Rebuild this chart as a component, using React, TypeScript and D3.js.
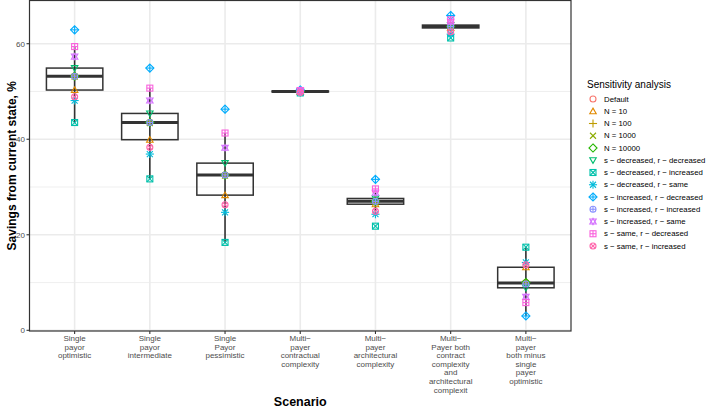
import React from "react";
import * as d3 from "d3";

const scenarios: string[][] = [
  ["Single", "payor", "optimistic"],
  ["Single", "payor", "intermediate"],
  ["Single", "Payor", "pessimistic"],
  ["Multi\u2212", "payer", "contractual", "complexity"],
  ["Multi\u2212", "payer", "architectural", "complexity"],
  ["Multi\u2212", "Payer both", "contract", "complexity", "and", "architectural", "complexit"],
  ["Multi\u2212", "payer", "both minus", "single", "payer", "optimistic"],
];

const seriesNames = [
  "Default",
  "N = 10",
  "N = 100",
  "N = 1000",
  "N = 10000",
  "s \u2212 decreased, r \u2212 decreased",
  "s \u2212 decreased, r \u2212 increased",
  "s \u2212 decreased, r \u2212 same",
  "s \u2212 increased, r \u2212 decreased",
  "s \u2212 increased, r \u2212 increased",
  "s \u2212 increased, r \u2212 same",
  "s \u2212 same, r \u2212 decreased",
  "s \u2212 same, r \u2212 increased",
];

const seriesColors = [
  "#F8766D", "#E18A00", "#BE9C00", "#8CAB00", "#24B700", "#00BE70", "#00C1AB",
  "#00BBDA", "#00ACFC", "#8B93FF", "#D575FE", "#F962DD", "#FF65AC",
];

// values per scenario (7 scenarios)
const defaultVals = [53.2, 43.5, 32.5, 50.0, 27.0, 63.6, 10.0];
const n10Vals = [50.3, 39.9, 28.3, 49.9, 26.4, 63.3, 13.2];
const n100Vals = [53.3, 43.6, 32.6, 50.0, 27.0, 63.6, 9.9];
const n1000Vals = [53.1, 43.4, 32.4, 50.0, 26.9, 63.5, 9.8];
const n10000Vals = [53.2, 43.5, 32.5, 50.0, 27.0, 63.6, 10.0];
const sDecRDec = [54.9, 45.4, 35.0, 50.1, 27.6, 63.9, 8.9];
const sDecRInc = [43.5, 31.7, 18.4, 49.7, 21.8, 61.2, 17.4];
const sDecRSame = [48.1, 36.9, 24.7, 49.8, 24.3, 62.0, 14.2];
const sIncRDec = [62.9, 54.9, 46.3, 50.3, 31.6, 65.9, 3.0];
const sIncRInc = [53.2, 43.5, 32.5, 50.0, 27.0, 63.6, 9.7];
const sIncRSame = [57.3, 48.1, 38.2, 50.2, 28.8, 64.6, 7.0];
const sSameRDec = [59.4, 50.7, 41.3, 50.2, 29.6, 65.0, 5.8];
const sSameRInc = [48.9, 38.3, 26.3, 49.8, 24.9, 62.5, 13.7];

const seriesValues = [
  defaultVals, n10Vals, n100Vals, n1000Vals, n10000Vals, sDecRDec, sDecRInc,
  sDecRSame, sIncRDec, sIncRInc, sIncRSame, sSameRDec, sSameRInc,
];

const yTicks = [0, 20, 40, 60];
const yMinor = [10, 30, 50];

const W = 709;
const H = 411;
const panel = { left: 29.5, right: 571, top: 0.5, bottom: 331 };

function Shape({ id, x, y, color }: { id: number; x: number; y: number; color: string }) {
  const s = 3;
  const sw = 1.1;
  const common = { fill: "none", stroke: color, strokeWidth: sw };
  const tri = (dir: number) => {
    const r = s * 1.25;
    const pts = [0, 1, 2].map((k) => {
      const a = (-Math.PI / 2) * dir + (k * 2 * Math.PI) / 3;
      return `${x + r * Math.cos(a)},${y + r * Math.sin(a) + (dir === 1 ? 0.6 : -0.6)}`;
    });
    return <polygon points={pts.join(" ")} {...common} />;
  };
  const plus = (r: number) => (
    <>
      <line x1={x - r} x2={x + r} y1={y} y2={y} {...common} />
      <line x1={x} x2={x} y1={y - r} y2={y + r} {...common} />
    </>
  );
  const cross = (r: number) => (
    <>
      <line x1={x - r} x2={x + r} y1={y - r} y2={y + r} {...common} />
      <line x1={x - r} x2={x + r} y1={y + r} y2={y - r} {...common} />
    </>
  );
  const diamond = (r: number) => (
    <polygon points={`${x},${y - r} ${x + r},${y} ${x},${y + r} ${x - r},${y}`} {...common} />
  );
  switch (id) {
    case 0:
      return <circle cx={x} cy={y} r={s} {...common} />;
    case 1:
      return tri(1);
    case 2:
      return plus(s * 1.35);
    case 3:
      return cross(s);
    case 4:
      return diamond(s * 1.35);
    case 5:
      return tri(-1);
    case 6:
      return (
        <g>
          <rect x={x - s} y={y - s} width={2 * s} height={2 * s} {...common} />
          {cross(s)}
        </g>
      );
    case 7:
      return (
        <g>
          {plus(s * 1.35)}
          {cross(s)}
        </g>
      );
    case 8:
      return (
        <g>
          {diamond(s * 1.35)}
          {plus(s * 1.35)}
        </g>
      );
    case 9:
      return (
        <g>
          <circle cx={x} cy={y} r={s} {...common} />
          {plus(s)}
        </g>
      );
    case 10:
      return (
        <g>
          {tri(1)}
          {tri(-1)}
        </g>
      );
    case 11:
      return (
        <g>
          <rect x={x - s} y={y - s} width={2 * s} height={2 * s} {...common} />
          {plus(s)}
        </g>
      );
    default:
      return (
        <g>
          <circle cx={x} cy={y} r={s} {...common} />
          {cross(s * 0.72)}
        </g>
      );
  }
}

export default function App() {
  const keys = scenarios.map((s) => s.join(" "));
  const x = d3.scalePoint<string>().domain(keys).range([panel.left, panel.right]).padding(0.6);
  const step = x.step();
  const allVals = seriesValues.flat();
  const ext = d3.extent(allVals) as [number, number];
  const pad = (ext[1] - ext[0]) * 0.05;
  const y = d3.scaleLinear().domain([ext[0] - pad, ext[1] + pad]).range([panel.bottom, panel.top]);

  const boxes = keys.map((k, i) => {
    const vals = seriesValues.map((s) => s[i]).sort(d3.ascending);
    const q1 = d3.quantile(vals, 0.25)!;
    const med = d3.quantile(vals, 0.5)!;
    const q3 = d3.quantile(vals, 0.75)!;
    const iqr = q3 - q1;
    const lo = d3.min(vals.filter((v) => v >= q1 - 1.5 * iqr))!;
    const hi = d3.max(vals.filter((v) => v <= q3 + 1.5 * iqr))!;
    return { k, q1, med, q3, lo, hi };
  });
  const bw = step * 0.75;
  const font = "'Liberation Sans', Arial, Helvetica, sans-serif";

  return (
    <svg width={W} height={H} style={{ position: "absolute", left: 0, top: 0, background: "#fff" }} fontFamily={font}>
      <rect x={0} y={0} width={W} height={H} fill="#fff" />
      {/* grid */}
      {yMinor.map((t) => (
        <line key={"mn" + t} x1={panel.left} x2={panel.right} y1={y(t)} y2={y(t)} stroke="#EBEBEB" strokeWidth={0.8} />
      ))}
      {yTicks.map((t) => (
        <line key={"mj" + t} x1={panel.left} x2={panel.right} y1={y(t)} y2={y(t)} stroke="#EBEBEB" strokeWidth={1.6} />
      ))}
      {keys.map((k) => (
        <line key={"vx" + k} x1={x(k)} x2={x(k)} y1={panel.top} y2={panel.bottom} stroke="#EBEBEB" strokeWidth={1.6} />
      ))}
      {/* boxes */}
      {boxes.map((b) => {
        const cx = x(b.k)!;
        return (
          <g key={"b" + b.k} stroke="#333333" fill="none">
            <line x1={cx} x2={cx} y1={y(b.lo)} y2={y(b.hi)} strokeWidth={1.6} />
            <rect x={cx - bw / 2} y={y(b.q3)} width={bw} height={Math.max(0, y(b.q1) - y(b.q3))} strokeWidth={1.5} />
            <line x1={cx - bw / 2} x2={cx + bw / 2} y1={y(b.med)} y2={y(b.med)} strokeWidth={3} />
          </g>
        );
      })}
      {/* points */}
      {seriesValues.map((vals, si) =>
        vals.map((v, i) => (
          <Shape key={`p${si}-${i}`} id={si} x={x(keys[i])!} y={y(v)} color={seriesColors[si]} />
        ))
      )}
      {/* panel border */}
      <rect x={panel.left} y={panel.top} width={panel.right - panel.left} height={panel.bottom - panel.top} fill="none" stroke="#333333" strokeWidth={1.2} />
      {/* y axis */}
      {yTicks.map((t) => (
        <g key={"yt" + t}>
          <line x1={panel.left - 3} x2={panel.left} y1={y(t)} y2={y(t)} stroke="#333333" strokeWidth={1.1} />
          <text x={panel.left - 4.5} y={y(t)} dy="0.35em" textAnchor="end" fontSize={8} fill="#4D4D4D">
            {t}
          </text>
        </g>
      ))}
      {/* x axis */}
      {scenarios.map((lines, i) => {
        const cx = x(keys[i])!;
        return (
          <g key={"xt" + i}>
            <line x1={cx} x2={cx} y1={panel.bottom} y2={panel.bottom + 3} stroke="#333333" strokeWidth={1.1} />
            <text x={cx} y={341} textAnchor="middle" fontSize={8} fill="#4D4D4D">
              {lines.map((l, j) => (
                <tspan key={j} x={cx} y={341 + j * 8.6}>
                  {l}
                </tspan>
              ))}
            </text>
          </g>
        );
      })}
      <text x={(panel.left + panel.right) / 2} y={406} textAnchor="middle" fontSize={12.5} fontWeight="bold" fill="#000">
        Scenario
      </text>
      <text transform={`translate(16, ${(panel.top + panel.bottom) / 2}) rotate(-90)`} textAnchor="middle" fontSize={12} fontWeight="bold" fill="#000">
        Savings from current state, %
      </text>
      {/* legend */}
      <text x={587} y={88} fontSize={10} fill="#000">
        Sensitivity analysis
      </text>
      {seriesNames.map((n, i) => {
        const cy = 99 + i * 12.25;
        return (
          <g key={"lg" + i}>
            <Shape id={i} x={593} y={cy} color={seriesColors[i]} />
            <text x={604} y={cy} dy="0.35em" fontSize={7.8} fill="#000">
              {n}
            </text>
          </g>
        );
      })}
    </svg>
  );
}
